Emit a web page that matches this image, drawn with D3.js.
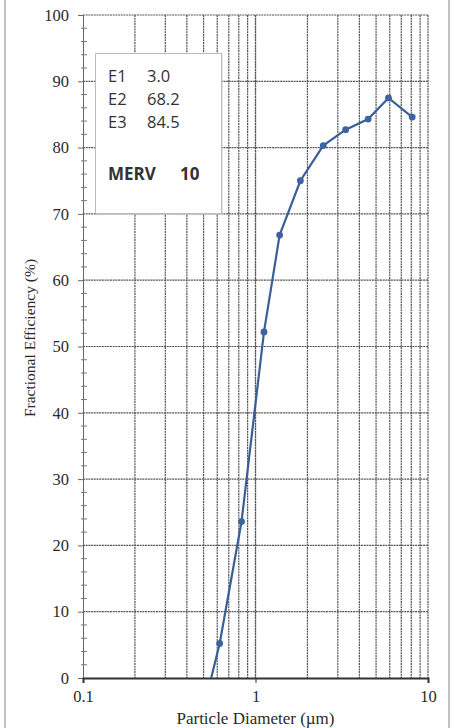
<!DOCTYPE html>
<html><head><meta charset="utf-8">
<script src="https://cdn.jsdelivr.net/npm/d3@7"></script>
<style>body{margin:0;background:#fff}svg{display:block}</style>
</head><body>
<script>
const diameters = [0.47, 0.62, 0.83, 1.12, 1.38, 1.82, 2.47, 3.33, 4.5, 5.9, 8.1];
const efficiency = [-7.5, 5.2, 23.6, 52.2, 66.8, 75.0, 80.3, 82.7, 84.3, 87.5, 84.6];
const yTicks = [0, 10, 20, 30, 40, 50, 60, 70, 80, 90, 100];
const xTickLabels = ["0.1", "1", "10"];
const legendRows = [["E1", "3.0"], ["E2", "68.2"], ["E3", "84.5"]];
const mervLabel = ["MERV", "10"];

const W = 454, H = 728;
const m = {l: 83, r: 26, t: 15, b: 50};
const svg = d3.select("body").append("svg").attr("width", W).attr("height", H);

svg.append("rect").attr("x", 5).attr("y", -2).attr("width", 444).attr("height", 732)
  .attr("fill", "none").attr("stroke", "#999").attr("stroke-width", 1.2);

const x = d3.scaleLog().domain([0.1, 10]).range([m.l, W - m.r]);
const y = d3.scaleLinear().domain([0, 100]).range([H - m.b, m.t]);

svg.append("defs").append("clipPath").attr("id", "clip").append("rect")
  .attr("x", m.l).attr("y", m.t).attr("width", x(10) - m.l).attr("height", y(0) - m.t);

const vgrid = [];
for (let dec of [0.1, 1]) for (let k = 1; k <= 10; k++) vgrid.push(dec * k);
const g = svg.append("g");
g.selectAll(".vg").data(vgrid.filter(v => v > 0.1)).join("line")
  .attr("x1", d => x(d)).attr("x2", d => x(d)).attr("y1", y(100)).attr("y2", y(0))
  .attr("stroke", "#555").attr("stroke-width", 1.2).attr("stroke-dasharray", "2,0.7");
g.selectAll(".hg").data(yTicks.filter(v => v > 0)).join("line")
  .attr("x1", x(0.1)).attr("x2", x(10)).attr("y1", d => y(d)).attr("y2", d => y(d))
  .attr("stroke", "#555").attr("stroke-width", 1.2).attr("stroke-dasharray", "2,0.7");

const yAxis = d3.axisLeft(y).tickValues(yTicks).tickSize(5).tickPadding(9);
const ya = svg.append("g").attr("transform", `translate(${m.l},0)`).call(yAxis);
ya.select(".domain").attr("stroke", "#666");
ya.selectAll(".tick line").attr("stroke", "#666");
ya.selectAll("text").attr("font-family", "Liberation Serif").attr("font-size", 16.5).attr("fill", "#2a2a2a");
svg.append("g").selectAll("line").data(d3.range(0, 100, 2).filter(v => v % 10 !== 0)).join("line")
  .attr("x1", m.l - 2).attr("x2", m.l + 4).attr("y1", d => y(d)).attr("y2", d => y(d))
  .attr("stroke", "#777");

const xAxis = d3.axisBottom(x).tickValues([0.1, 1, 10]).tickFormat((d, i) => xTickLabels[i]).tickSize(5).tickPadding(7);
const xa = svg.append("g").attr("transform", `translate(0,${y(0)})`).call(xAxis);
xa.select(".domain").attr("stroke", "#333").attr("stroke-width", 2);
xa.selectAll(".tick line").attr("stroke", "#333");
xa.selectAll("text").attr("font-family", "Liberation Serif").attr("font-size", 16.5).attr("fill", "#2a2a2a");

svg.append("text").attr("x", (x(0.1) + x(10)) / 2).attr("y", 724).attr("text-anchor", "middle")
  .attr("font-family", "Liberation Serif").attr("font-size", 17).attr("fill", "#2a2a2a")
  .text("Particle Diameter (µm)");
svg.append("text").attr("transform", "translate(35,338) rotate(-90)").attr("text-anchor", "middle")
  .attr("font-family", "Liberation Serif").attr("font-size", 15.5).attr("fill", "#2a2a2a")
  .text("Fractional Efficiency (%)");

const pts = diameters.map((d, i) => ({d, e: efficiency[i]}));
const pl = svg.append("g").attr("clip-path", "url(#clip)");
pl.append("path").datum(pts)
  .attr("d", d3.line().x(p => x(p.d)).y(p => y(p.e)))
  .attr("fill", "none").attr("stroke", "#3a5f96").attr("stroke-width", 2.2);
pl.selectAll("circle").data(pts).join("circle")
  .attr("cx", p => x(p.d)).attr("cy", p => y(p.e)).attr("r", 3.4).attr("fill", "#3d63a0");

const lb = svg.append("g");
lb.append("rect").attr("x", 97).attr("y", 55).attr("width", 126).attr("height", 160)
  .attr("fill", "#ccc").attr("opacity", 0.5);
lb.append("rect").attr("x", 95.5).attr("y", 53.5).attr("width", 126).attr("height", 160)
  .attr("fill", "#fff").attr("stroke", "#bbb");
const lf = 16.5;
legendRows.forEach((r, i) => {
  lb.append("text").attr("x", 108).attr("y", 82 + i * 23).attr("font-family", "Open Sans")
    .attr("font-size", lf).attr("fill", "#333").text(r[0]);
  lb.append("text").attr("x", 147).attr("y", 82 + i * 23).attr("font-family", "Open Sans")
    .attr("font-size", lf).attr("fill", "#333").text(r[1]);
});
lb.append("text").attr("x", 108).attr("y", 180).attr("font-family", "Open Sans").attr("font-weight", "bold")
  .attr("font-size", lf + 0.5).attr("fill", "#333").text(mervLabel[0]);
lb.append("text").attr("x", 180).attr("y", 180).attr("font-family", "Open Sans").attr("font-weight", "bold")
  .attr("font-size", lf + 0.5).attr("fill", "#333").text(mervLabel[1]);
</script>
</body></html>
